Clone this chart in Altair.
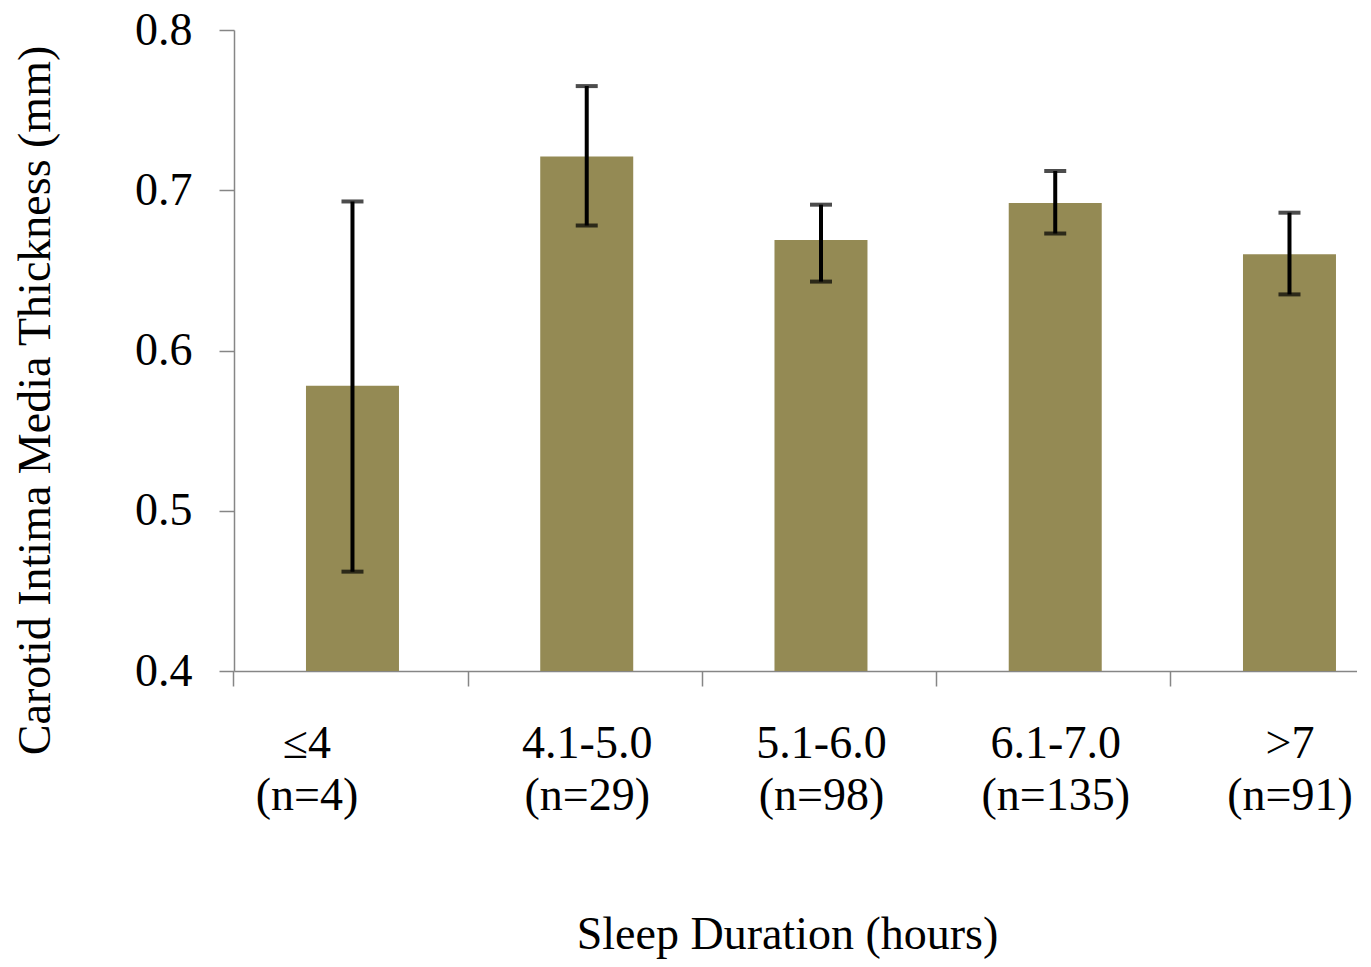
import altair as alt
import pandas as pd

PAD = "\u00a0" * 8 + "\u200b"
categories = ["≤4" + PAD, "4.1-5.0", "5.1-6.0", "6.1-7.0", ">7"]
n_labels = ["(n=4)" + PAD, "(n=29)", "(n=98)", "(n=135)", "(n=91)"]
means = [0.578, 0.721, 0.669, 0.692, 0.660]
lower = [0.462, 0.678, 0.643, 0.673, 0.635]
upper = [0.693, 0.765, 0.691, 0.712, 0.686]

labels = [f"{c}|{n}" for c, n in zip(categories, n_labels)]
df = pd.DataFrame({"group": labels, "mean": means, "lo": lower, "hi": upper})

FONT = "Liberation Serif"
FS = 46
GRAY = "#868686"
HALF_STEP = 119

x = alt.X(
    "group:N",
    sort=labels,
    scale=alt.Scale(paddingInner=0.603, paddingOuter=0.1985, align=0.774),
    axis=alt.Axis(
        title="Sleep Duration (hours)",
        labelExpr="split(datum.label, '|')",
        labelAngle=0,
        labelFont=FONT,
        labelFontSize=FS,
        labelColor="black",
        labelLineHeight=52,
        labelPadding=35,
        labelOffset=HALF_STEP,
        labelLimit=0,
        labelOverlap=False,
        tickBand="center",
        tickOffset=-HALF_STEP,
        tickSize=15,
        tickColor=GRAY,
        tickWidth=1.5,
        domainColor=GRAY,
        domainWidth=1.5,
        titleFont=FONT,
        titleFontSize=FS,
        titleFontWeight="normal",
        titleColor="black",
        titleX=553,
        titleY=277,
        titleBaseline="alphabetic",
        titleAlign="center",
    ),
)

yscale = alt.Scale(domain=[0.4, 0.8], zero=False, nice=False)
yaxis = alt.Axis(
    title="Carotid Intima Media Thickness (mm)",
    values=[0.4, 0.5, 0.6, 0.7, 0.8],
    format=".1f",
    grid=False,
    labelFont=FONT,
    labelFontSize=FS,
    labelColor="black",
    labelPadding=27,
    tickSize=15,
    tickColor=GRAY,
    tickWidth=1.5,
    domainColor=GRAY,
    domainWidth=1.5,
    titleFont=FONT,
    titleFontSize=FS,
    titleFontWeight="normal",
    titleColor="black",
    titleAngle=-90,
    titleX=-199,
    titleY=370,
    titleBaseline="middle",
    titleAlign="center",
)

base = alt.Chart(df)

bars = base.mark_bar(color="#948a54").encode(
    x=x,
    y=alt.Y("mean:Q", scale=yscale, axis=yaxis),
    y2=alt.datum(0.4),
)

rules = base.mark_rule(color="black", strokeWidth=4).encode(
    x=alt.X("group:N", sort=labels),
    y=alt.Y("lo:Q"),
    y2="hi:Q",
)

cap_lo = base.mark_tick(color="black", thickness=4, size=22).encode(
    x=alt.X("group:N", sort=labels),
    y=alt.Y("lo:Q"),
)
cap_hi = base.mark_tick(color="black", thickness=4, size=22).encode(
    x=alt.X("group:N", sort=labels),
    y=alt.Y("hi:Q"),
)

chart = (
    alt.layer(bars, rules, cap_lo, cap_hi)
    .properties(
        width=1123,
        height=641,
        autosize=alt.AutoSizeParams(type="none"),
        padding={"left": 226, "top": 22, "right": 0, "bottom": 288},
    )
    .configure(background="white")
    .configure_view(stroke="transparent", strokeWidth=0)
)

chart.save("out.html", embed_options={"renderer": "svg", "actions": False})
